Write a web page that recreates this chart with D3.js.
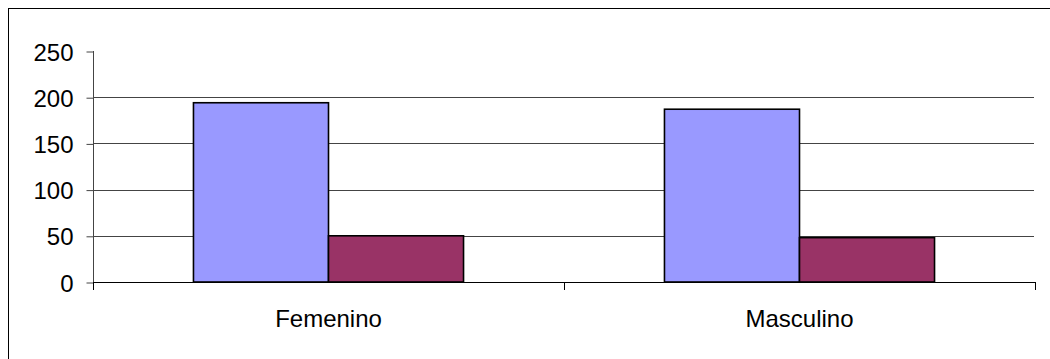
<!DOCTYPE html>
<html>
<head>
<meta charset="utf-8">
<script src="https://cdn.jsdelivr.net/npm/d3@7"></script>
<style>
  html, body { margin: 0; padding: 0; background: #fff; }
  svg { display: block; }
  text { font-family: Arial, "Liberation Sans", sans-serif; fill: #000; }
</style>
</head>
<body>
<svg id="chart" width="1050" height="359"></svg>
<script>
// Chart data
const categories = ["Femenino", "Masculino"];
const seriesNames = ["Serie 1", "Serie 2"];
const serie1 = [194, 187];
const serie2 = [50, 48];
const yTicks = [0, 50, 100, 150, 200, 250];
const gridTicks = [50, 100, 150, 200];

const seriesValues = [serie1, serie2];
const colors = ["#9999FF", "#993366"];

const svg = d3.select("#chart");

// Outer chart frame (continues past the right and bottom edges)
svg.append("rect")
  .attr("x", 8.5).attr("y", 8.5)
  .attr("width", 1100).attr("height", 400)
  .attr("fill", "#fff").attr("stroke", "#000").attr("stroke-width", 1);

const plot = { left: 93, right: 1035, top: 51, bottom: 282 };

const y = d3.scaleLinear().domain([0, 250]).range([plot.bottom, plot.top]);
const x0 = d3.scaleBand().domain(categories).range([plot.left, plot.right]).padding(0);
const x1 = d3.scaleBand().domain(seriesNames).range([0, x0.bandwidth()])
  .paddingInner(0).paddingOuter(0.744);

// Horizontal gridlines
svg.append("g")
  .selectAll("line")
  .data(gridTicks)
  .join("line")
  .attr("x1", plot.left).attr("x2", plot.right - 1)
  .attr("y1", d => Math.round(y(d)) + 0.5).attr("y2", d => Math.round(y(d)) + 0.5)
  .attr("stroke", "#444").attr("stroke-width", 1);

// Y axis
const yAxis = d3.axisLeft(y).tickValues(yTicks).tickSize(7).tickPadding(13);
const gy = svg.append("g")
  .attr("transform", `translate(${plot.left + 0.5},0.5)`)
  .call(yAxis);
gy.select(".domain").remove();
gy.selectAll(".tick line").attr("stroke", "#444");
gy.selectAll(".tick text")
  .attr("font-size", 24)
  .attr("font-family", "Arial, 'Liberation Sans', sans-serif")
  .attr("dy", "0.36em");
svg.append("line")
  .attr("x1", plot.left + 0.5).attr("x2", plot.left + 0.5)
  .attr("y1", plot.top).attr("y2", plot.bottom + 8)
  .attr("stroke", "#444");

// Bars
const groups = svg.append("g")
  .selectAll("g")
  .data(categories)
  .join("g")
  .attr("transform", d => `translate(${x0(d)},0)`);

groups.selectAll("rect")
  .data((c, i) => seriesNames.map((s, j) => ({ s, j, v: seriesValues[j][i] })))
  .join("rect")
  .attr("x", d => x1(d.s))
  .attr("y", d => y(d.v))
  .attr("width", x1.bandwidth())
  .attr("height", d => y(0) - y(d.v))
  .attr("fill", d => colors[d.j])
  .attr("stroke", "#000")
  .attr("stroke-width", 1.6);

// X axis baseline and category ticks
svg.append("line")
  .attr("x1", plot.left).attr("x2", plot.right + 1)
  .attr("y1", plot.bottom + 0.5).attr("y2", plot.bottom + 0.5)
  .attr("stroke", "#000");
const xBounds = categories.map(c => x0(c)).concat([plot.right]);
svg.append("g")
  .selectAll("line")
  .data(xBounds)
  .join("line")
  .attr("x1", d => Math.round(d) + 0.5).attr("x2", d => Math.round(d) + 0.5)
  .attr("y1", plot.bottom).attr("y2", plot.bottom + 8)
  .attr("stroke", "#000");

// Category labels
svg.append("g")
  .selectAll("text")
  .data(categories)
  .join("text")
  .attr("x", d => x0(d) + x0.bandwidth() / 2)
  .attr("y", 327)
  .attr("text-anchor", "middle")
  .attr("font-size", 24)
  .text(d => d);
</script>
</body>
</html>
